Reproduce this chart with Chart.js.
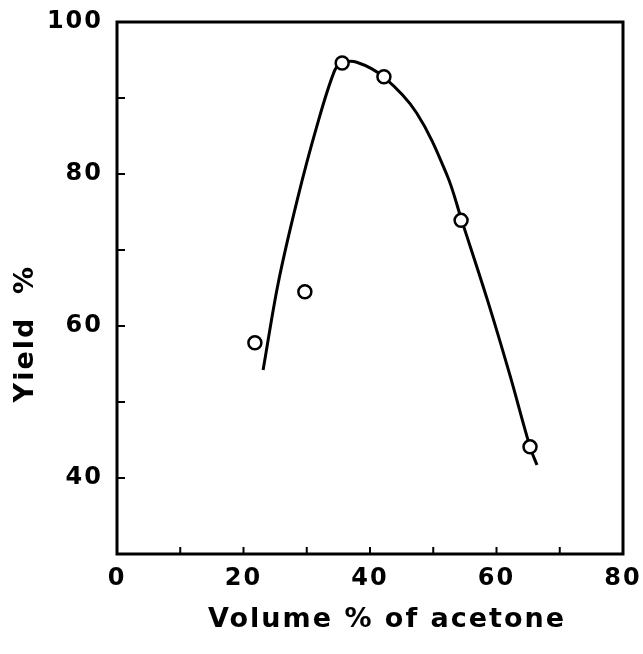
<!DOCTYPE html>
<html>
<head>
<meta charset="utf-8">
<script src="https://cdn.jsdelivr.net/npm/chart.js@4"></script>
<style>
  html, body { margin: 0; padding: 0; background: #fff; }
  canvas { display: block; }
</style>
</head>
<body>
<canvas id="chart" width="643" height="654"></canvas>
<script>
// measured points (open circles)
const acetone = [21.8, 29.7, 35.6, 42.2, 54.4, 65.3];
const yieldPct = [57.8, 64.5, 94.6, 92.8, 73.9, 44.1];

// hand drawn curve
const curveX = [23.1, 25.5, 28.5, 31.5, 34.4, 35.6, 37.9, 42.1, 47.4, 52.2, 54.5, 58.5, 62.1, 65.3, 66.4];
const curveY = [54.2, 65.7, 76.6, 86.0, 93.6, 94.6, 94.7, 92.8, 88.0, 79.8, 73.9, 63.6, 53.6, 44.1, 41.7];

const xTicks = [0, 20, 40, 60, 80];
const yTicks = [40, 60, 80, 100];

const TICK_FONT = { family: 'DejaVu Sans', size: 24, weight: 'bold' };
const TITLE_FONT = { family: 'DejaVu Sans', size: 27, weight: 'bold' };

// frame round the plot + short inward ticks
const framePlugin = {
  id: 'frame',
  beforeDraw(chart) {
    chart.ctx.letterSpacing = '2px';
  },
  afterDraw(chart) {
    const { ctx, chartArea: a, scales } = chart;
    ctx.save();
    ctx.strokeStyle = '#000';
    ctx.lineWidth = 2;
    scales.x.ticks.forEach(t => {
      if (t.value <= scales.x.min || t.value >= scales.x.max) return;
      const px = scales.x.getPixelForValue(t.value);
      ctx.beginPath();
      ctx.moveTo(px, a.bottom);
      ctx.lineTo(px, a.bottom - 7);
      ctx.stroke();
    });
    scales.y.ticks.forEach(t => {
      if (t.value <= scales.y.min || t.value >= scales.y.max) return;
      const py = scales.y.getPixelForValue(t.value);
      ctx.beginPath();
      ctx.moveTo(a.left, py);
      ctx.lineTo(a.left + 8, py);
      ctx.stroke();
    });
    ctx.lineWidth = 3;
    ctx.strokeRect(a.left, a.top, a.right - a.left, a.bottom - a.top);
    ctx.restore();
  }
};

new Chart(document.getElementById('chart'), {
  type: 'scatter',
  data: {
    datasets: [
      {
        data: curveX.map((x, i) => ({ x, y: curveY[i] })),
        showLine: true,
        borderColor: '#000',
        borderWidth: 3,
        pointRadius: 0,
        tension: 0.35,
        order: 2
      },
      {
        data: acetone.map((x, i) => ({ x, y: yieldPct[i] })),
        pointRadius: 6.5,
        pointBorderWidth: 2.5,
        pointBackgroundColor: '#fff',
        pointBorderColor: '#000',
        order: 1
      }
    ]
  },
  options: {
    responsive: false,
    animation: false,
    layout: { padding: { top: 22, right: 20, left: 0, bottom: 0 } },
    plugins: { legend: { display: false }, tooltip: { enabled: false } },
    scales: {
      x: {
        min: 0, max: 80,
        afterFit: s => { s.height = 100; s.paddingLeft = 0; s.paddingRight = 0; },
        grid: { display: false, drawTicks: false },
        border: { display: false },
        ticks: {
          stepSize: 10, padding: 10, color: '#000', font: TICK_FONT,
          callback: v => xTicks.includes(v) ? String(v) : ''
        },
        title: {
          display: true, text: '   Volume % of acetone', color: '#000', font: TITLE_FONT,
          padding: { top: 0, bottom: 18 }
        }
      },
      y: {
        min: 30, max: 100,
        afterFit: s => { s.width = 117; s.paddingTop = 0; s.paddingBottom = 0; },
        grid: { display: false, drawTicks: false },
        border: { display: false },
        ticks: {
          stepSize: 10, padding: 14, color: '#000', font: TICK_FONT,
          callback: v => yTicks.includes(v) ? String(v) : ''
        },
        title: {
          display: true, text: 'Yield  %        ', color: '#000', font: TITLE_FONT,
          padding: { top: 10, bottom: 0 }
        }
      }
    }
  },
  plugins: [framePlugin]
});
</script>
</body>
</html>
